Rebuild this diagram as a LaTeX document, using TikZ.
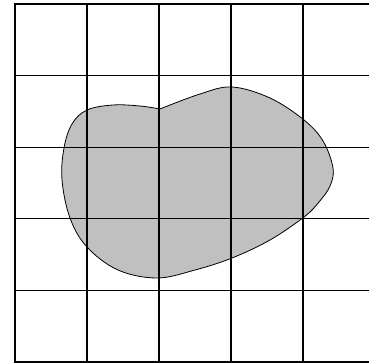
\documentclass[tikz,border=0pt]{standalone}
\definecolor{blobgray}{RGB}{192,192,192}
\tikzset{
  gridline/.style={line width=1.1pt, black},
  frame/.style={line width=2.6pt, black},
  blob/.style={fill=blobgray, draw=black, line width=0.8pt}
}
\begin{document}
\begin{tikzpicture}[x=1pt,y=-1pt]
\useasboundingbox (0,0) rectangle (369,363);
\begin{scope}
\clip (0,0) rectangle (369,363);
\draw[blob] plot[smooth, tension=0.6] coordinates {
 (160,109) (200,94) (232,87) (270,98) (304,120) (323,141) (333,168)
 (330,186) (319,202) (304,217) (270,240) (232,258) (195,270) (157,278)
 (118,270) (87,247) (70,218) (62,180) (64,148) (72,124) (87,110) (113,105) (140,106) (160,109)};
\foreach \x in {87,159,231,303} \draw[gridline] (\x,4) -- (\x,362);
\foreach \y in {75.6,147.2,218.8,290.4} \draw[gridline] (15,\y) -- (375,\y);
\draw[frame] (15,4) rectangle (375,362);
\end{scope}
\end{tikzpicture}
\end{document}
